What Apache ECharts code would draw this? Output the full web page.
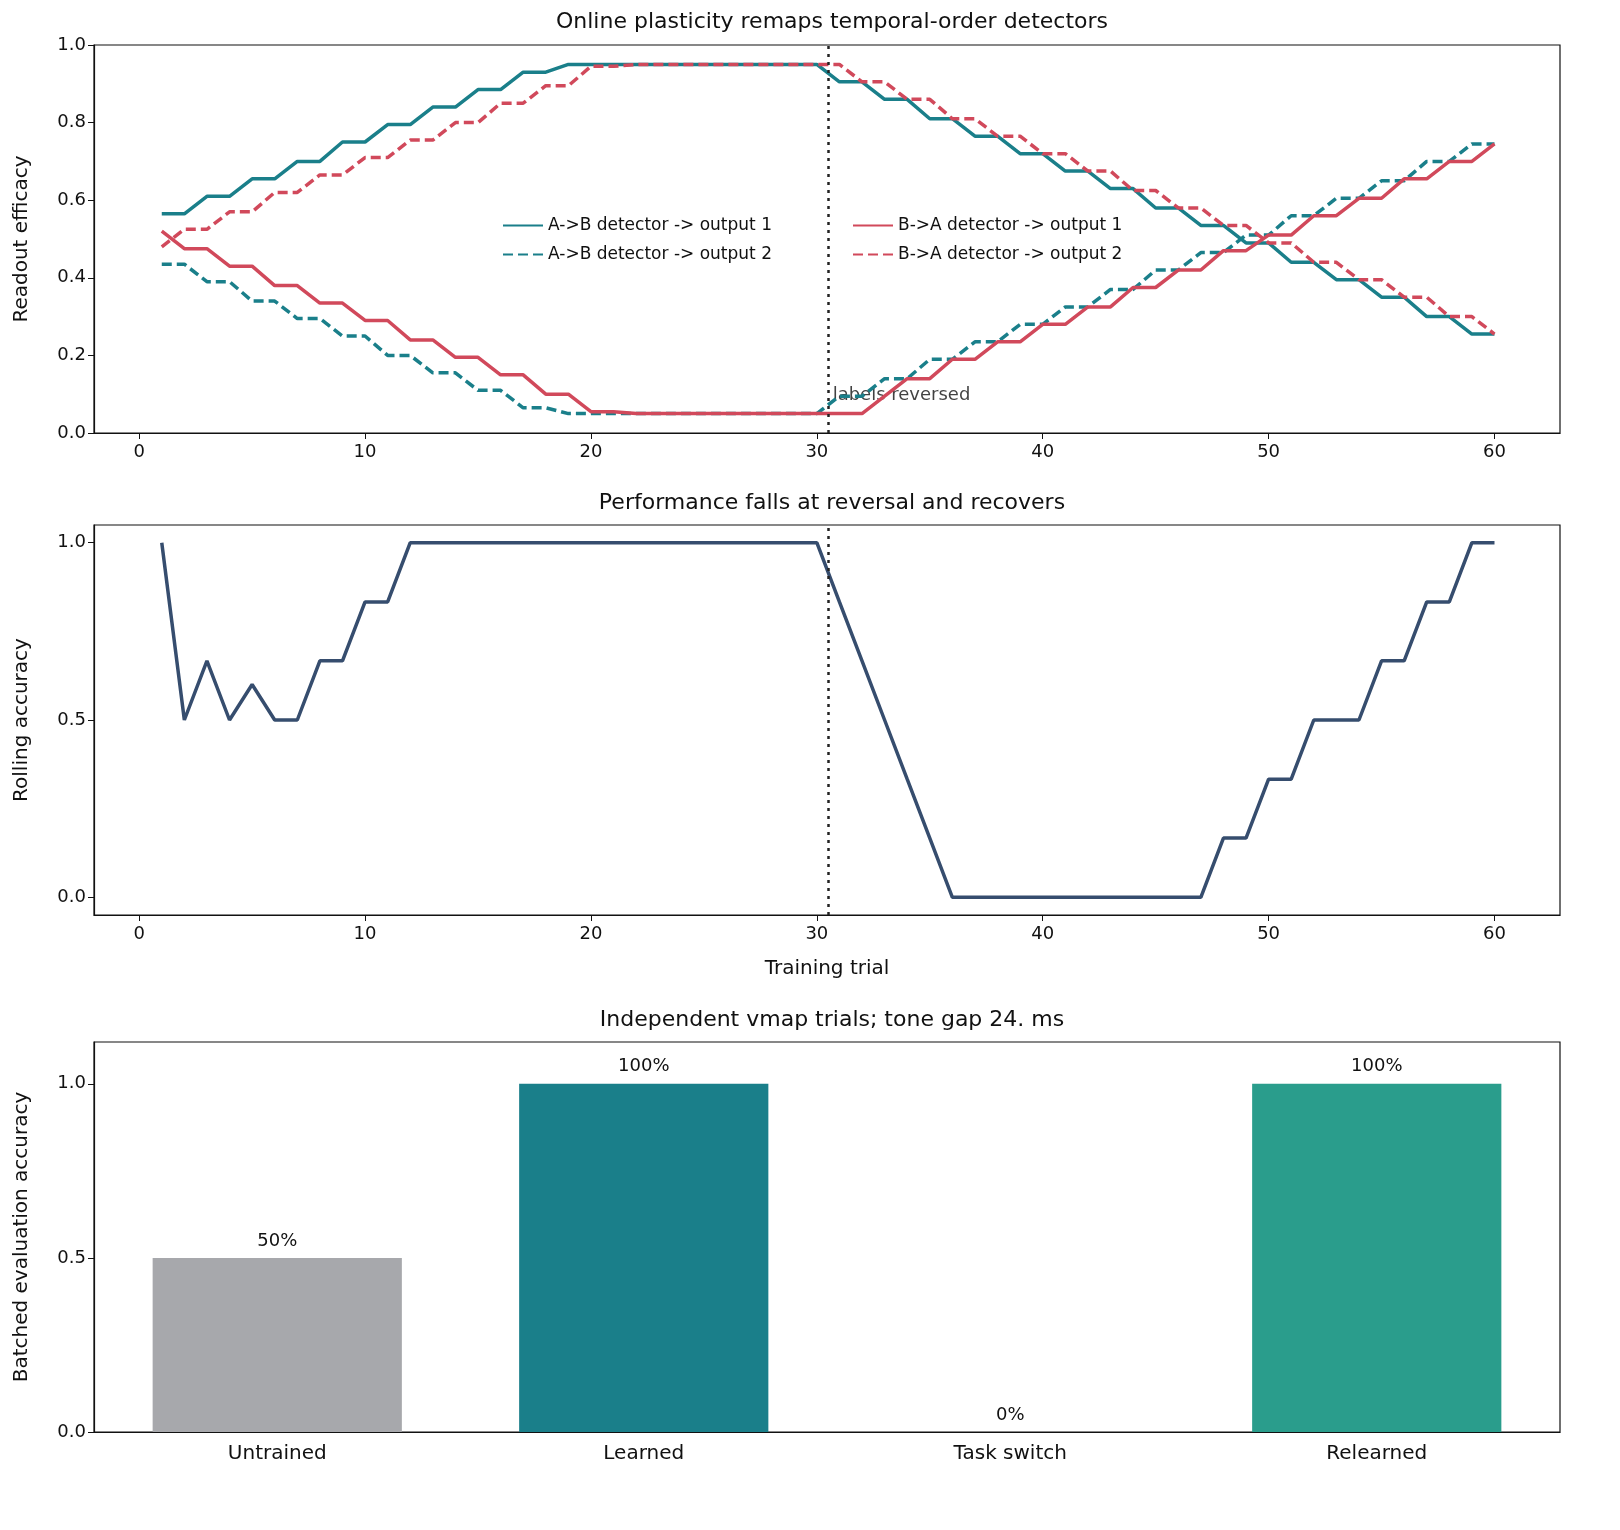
<!DOCTYPE html>
<html>
<head>
<meta charset="utf-8">
<script src="https://cdn.jsdelivr.net/npm/echarts@6/dist/echarts.min.js"></script>
<style>
  html, body { margin: 0; padding: 0; background: #fff; }
  #chart { width: 1620px; height: 1530px; }
</style>
</head>
<body>
<div id="chart"></div>
<script>
// trials 1..60
var trials = [];
for (var t = 1; t <= 60; t++) trials.push(t);

var abOut1 = [0.565,0.565,0.61,0.61,0.655,0.655,0.70,0.70,0.75,0.75,0.795,0.795,0.84,0.84,0.885,0.885,0.93,0.93,0.95,0.95,
  0.95,0.95,0.95,0.95,0.95,0.95,0.95,0.95,0.95,0.95,0.905,0.905,0.86,0.86,0.81,0.81,0.765,0.765,0.72,0.72,
  0.675,0.675,0.63,0.63,0.58,0.58,0.535,0.535,0.49,0.49,0.44,0.44,0.395,0.395,0.35,0.35,0.30,0.30,0.255,0.255];
var abOut2 = [0.435,0.435,0.39,0.39,0.34,0.34,0.295,0.295,0.25,0.25,0.20,0.20,0.155,0.155,0.11,0.11,0.065,0.065,0.05,0.05,
  0.05,0.05,0.05,0.05,0.05,0.05,0.05,0.05,0.05,0.05,0.095,0.095,0.14,0.14,0.19,0.19,0.235,0.235,0.28,0.28,
  0.325,0.325,0.37,0.37,0.42,0.42,0.465,0.465,0.51,0.51,0.56,0.56,0.605,0.605,0.65,0.65,0.70,0.70,0.745,0.745];
var baOut1 = [0.52,0.475,0.475,0.43,0.43,0.38,0.38,0.335,0.335,0.29,0.29,0.24,0.24,0.195,0.195,0.15,0.15,0.10,0.10,0.055,
  0.055,0.05,0.05,0.05,0.05,0.05,0.05,0.05,0.05,0.05,0.05,0.05,0.095,0.14,0.14,0.19,0.19,0.235,0.235,0.28,
  0.28,0.325,0.325,0.375,0.375,0.42,0.42,0.47,0.47,0.51,0.51,0.56,0.56,0.605,0.605,0.655,0.655,0.70,0.70,0.745];
var baOut2 = [0.48,0.525,0.525,0.57,0.57,0.62,0.62,0.665,0.665,0.71,0.71,0.755,0.755,0.80,0.80,0.85,0.85,0.895,0.895,0.945,
  0.945,0.95,0.95,0.95,0.95,0.95,0.95,0.95,0.95,0.95,0.95,0.905,0.905,0.86,0.86,0.81,0.81,0.765,0.765,0.72,
  0.72,0.675,0.675,0.625,0.625,0.58,0.58,0.535,0.535,0.49,0.49,0.44,0.44,0.395,0.395,0.35,0.35,0.30,0.30,0.255];
var rolling = [1,0.5,0.667,0.5,0.6,0.5,0.5,0.667,0.667,0.833,0.833,1,1,1,1,1,1,1,1,1,
  1,1,1,1,1,1,1,1,1,1,0.833,0.667,0.5,0.333,0.167,0,0,0,0,0,
  0,0,0,0,0,0,0,0.167,0.167,0.333,0.333,0.5,0.5,0.5,0.667,0.667,0.833,0.833,1,1];
var xTicks = [0, 10, 20, 30, 40, 50, 60];
var halfTicks = [0, 0.5, 1.0];
var topTicks = [0, 0.2, 0.4, 0.6, 0.8, 1.0];
var barCats = ['Untrained', 'Learned', 'Task switch', 'Relearned'];
var barVals = [0.5, 1.0, 0.0, 1.0];
var barColors = ['#a7a8ac', '#1a7f8a', '#1a7f8a', '#2a9d8c'];

var TEAL = '#1a7f8a', RED = '#d1495b', NAVY = '#364d6e';
var font = 'DejaVu Sans';

function pairs(arr) { return arr.map(function (v, i) { return [trials[i], v]; }); }

function xAx(idx, name) {
  return {
    type: 'value', gridIndex: idx, min: -2, max: 62.9,
    name: name || '', nameLocation: 'middle', nameGap: 44,
    nameTextStyle: { fontSize: 20, color: '#111', fontFamily: font },
    axisLine: { show: true, onZero: false, lineStyle: { color: '#111', width: 1.2 } },
    axisTick: { show: true, length: 6, customValues: xTicks, lineStyle: { color: '#111' } },
    axisLabel: { fontSize: 18, color: '#111', fontFamily: font, margin: 10, customValues: xTicks },
    splitLine: { show: false }
  };
}
function yAx(idx, name, min, max, ticks) {
  return {
    type: 'value', gridIndex: idx, min: min, max: max,
    name: name, nameLocation: 'middle', nameGap: 62,
    nameTextStyle: { fontSize: 20, color: '#111', fontFamily: font },
    axisLine: { show: true, onZero: false, lineStyle: { color: '#111', width: 1.2 } },
    axisTick: { show: true, length: 6, customValues: ticks, lineStyle: { color: '#111' } },
    axisLabel: { fontSize: 18, color: '#111', fontFamily: font, customValues: ticks,
      formatter: function (v) { return v.toFixed(1); } },
    splitLine: { show: false }
  };
}
function lineS(name, data, color, dashed, x, y) {
  return {
    name: name, type: 'line', xAxisIndex: x, yAxisIndex: y, data: pairs(data),
    symbol: 'none', color: color,
    lineStyle: { width: 3.5, color: color, type: dashed ? [10, 5] : 'solid' }
  };
}
var revLine = {
  silent: true, symbol: 'none', label: { show: false },
  lineStyle: { color: '#222', width: 2.5, type: [3, 5] },
  data: [{ xAxis: 30.5 }]
};
var legendBase = {
  orient: 'vertical', top: 212, itemWidth: 40, itemHeight: 12, itemGap: 12,
  itemStyle: { opacity: 0 },
  textStyle: { fontSize: 17, color: '#111', fontFamily: font }
};

var chart = echarts.init(document.getElementById('chart'));
var option = {
  animation: false,
  backgroundColor: '#fff',
  title: [
    { text: 'Online plasticity remaps temporal-order detectors', left: 827, top: 6, textAlign: 'center',
      textStyle: { fontSize: 22, fontWeight: 'normal', color: '#111', fontFamily: font } },
    { text: 'Performance falls at reversal and recovers', left: 827, top: 487, textAlign: 'center',
      textStyle: { fontSize: 22, fontWeight: 'normal', color: '#111', fontFamily: font } },
    { text: 'Independent vmap trials; tone gap 24. ms', left: 827, top: 1004, textAlign: 'center',
      textStyle: { fontSize: 22, fontWeight: 'normal', color: '#111', fontFamily: font } }
  ],
  grid: [
    { left: 94, right: 60, top: 45, height: 388, show: true, borderColor: '#111', borderWidth: 1.2 },
    { left: 94, right: 60, top: 525, height: 390, show: true, borderColor: '#111', borderWidth: 1.2 },
    { left: 94, right: 60, top: 1042, height: 390, show: true, borderColor: '#111', borderWidth: 1.2 }
  ],
  legend: [
    Object.assign({ data: ['A->B detector -> output 1', 'A->B detector -> output 2'], left: 497 }, legendBase),
    Object.assign({ data: ['B->A detector -> output 1', 'B->A detector -> output 2'], left: 847 }, legendBase)
  ],
  xAxis: [
    xAx(0), xAx(1, 'Training trial'),
    { type: 'category', gridIndex: 2, data: barCats,
      axisLine: { lineStyle: { color: '#111', width: 1.2 } },
      axisTick: { alignWithLabel: true, length: 6, lineStyle: { color: '#111' } },
      axisLabel: { fontSize: 20, color: '#111', fontFamily: font, margin: 12 } }
  ],
  yAxis: [
    yAx(0, 'Readout efficacy', 0, 1, topTicks),
    yAx(1, 'Rolling accuracy', -0.05, 1.05, halfTicks),
    yAx(2, 'Batched evaluation accuracy', 0, 1.12, halfTicks)
  ],
  series: [
    lineS('A->B detector -> output 1', abOut1, TEAL, false, 0, 0),
    lineS('A->B detector -> output 2', abOut2, TEAL, true, 0, 0),
    lineS('B->A detector -> output 1', baOut1, RED, false, 0, 0),
    Object.assign(lineS('B->A detector -> output 2', baOut2, RED, true, 0, 0), { markLine: revLine }),
    {
      type: 'scatter', xAxisIndex: 0, yAxisIndex: 0, symbolSize: 0, silent: true,
      data: [[30.7, 0.097]],
      label: { show: true, formatter: 'labels reversed', position: 'right', distance: 0,
        fontSize: 18, color: '#111', fontFamily: font }
    },
    Object.assign(lineS('Rolling', rolling, NAVY, false, 1, 1), { markLine: revLine }),
    {
      type: 'bar', xAxisIndex: 2, yAxisIndex: 2, barWidth: '68%',
      data: barVals.map(function (v, i) { return { value: v, itemStyle: { color: barColors[i] } }; }),
      label: { show: true, position: 'top', distance: 8, fontSize: 18, color: '#111', fontFamily: font,
        formatter: function (p) { return Math.round(p.value * 100) + '%'; } }
    }
  ]
};
chart.setOption(option);
window.addEventListener('resize', function () { chart.resize(); });
</script>
</body>
</html>
